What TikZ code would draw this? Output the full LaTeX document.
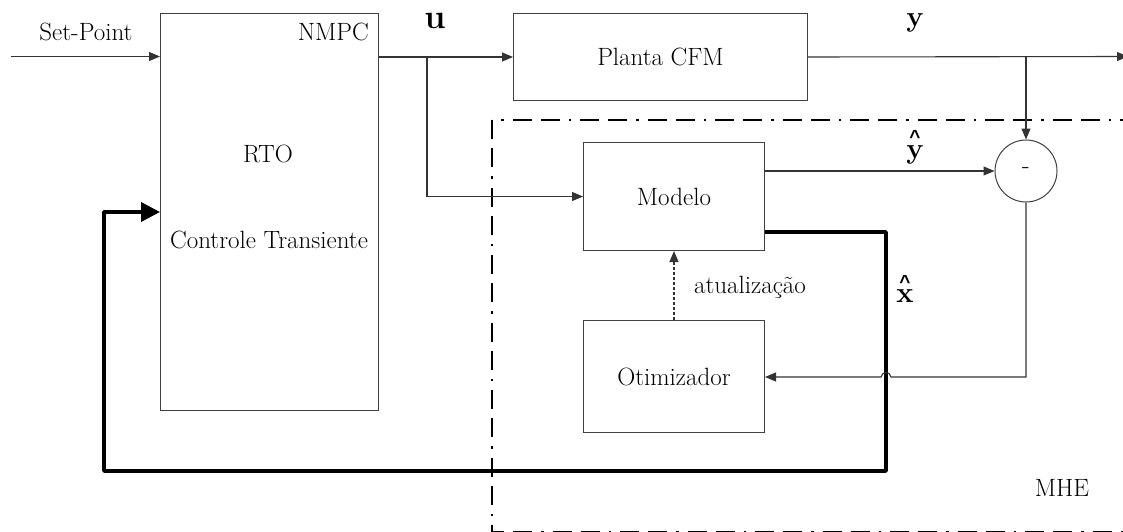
\documentclass[tikz,border=0pt]{standalone}
\usepackage{fontspec}
\setmainfont{Latin Modern Roman}
\newfontfamily\caretfamily{Liberation Sans}
\usetikzlibrary{arrows.meta}
\newcommand\lblfont{\fontsize{25}{29}\selectfont}
\newcommand\varfont{\fontsize{29}{33}\selectfont}
\newcommand\bigvarfont{\fontsize{34}{38}\selectfont}
\begin{document}
\begin{tikzpicture}[x=1pt,y=-1pt,
  blk/.style={draw=black!75, line width=1pt, rectangle, inner sep=0pt, anchor=north west},
  lbl/.style={inner sep=0pt, font=\lblfont},
  var/.style={inner sep=0pt, anchor=base, font=\varfont},
  caret/.style={inner sep=0pt, anchor=base, text height=14pt, text depth=0pt,
    font=\caretfamily\bfseries\fontsize{19}{21}\selectfont},
  sig/.style={draw=black!80, line width=1.1pt, -{Triangle[length=11pt,width=9pt]}},
  fb/.style={draw=black, line width=3.6pt, line join=round, -{Triangle[length=19pt,width=19pt]}},
  mhebox/.style={draw=black, line width=2.6pt,
    dash pattern=on 19pt off 9pt on 19pt off 9pt on 2.5pt off 9pt}]
\clip (0,0) rectangle (1123,532);

% enclosing MHE region
\draw[mhebox] (492,120) rectangle (1160,532);

% blocks
\node[blk, minimum width=218pt, minimum height=397pt] (nmpc) at (160,13) {};
\node[blk, minimum width=294pt, minimum height=87pt] (planta) at (513,13) {};
\node[blk, minimum width=181pt, minimum height=108pt] (modelo) at (583,142) {};
\node[blk, minimum width=181pt, minimum height=112pt] (otim) at (583,320) {};
\node[draw=black!75, line width=1pt, circle, minimum size=62pt, inner sep=0pt] (sum) at (1026,171) {};

% block texts
\node[lbl, anchor=east] (tnmpc) at (369,32) {NMPC};
\node[lbl] (trto) at (268,154) {RTO};
\node[lbl] (tct) at (269,240) {Controle Transiente};
\node[lbl] (tplanta) at (planta.center) {Planta CFM};
\node[lbl] (tmodelo) at (modelo.center) {Modelo};
\node[lbl] (totim) at (otim.center) {Otimizador};
\node[lbl] (tminus) at (sum.center) {-};
\node[lbl] (tmhe) at (1062,488) {MHE};

% signal labels (estimates carry a caret set above the letter)
\node[lbl] (tsp) at (86,32) {Set-Point};
\node[var, font=\bigvarfont] (tu) at (435,29) {$\mathbf{u}$};
\node[var] (ty) at (915,27) {$\mathbf{y}$};
\node[var] (tyh) at (915,158) {$\mathbf{y}$};
\node[caret] (tyhc) at (915,143) {\^{}};
\node[var] (txh) at (905,302) {$\mathbf{x}$};
\node[caret] (txhc) at (905,288) {\^{}};
\node[lbl] (tat) at (750,287) {atualização};

% junction and corner points
\coordinate (sp) at (11,56.5);
\coordinate (uj) at (427,56.5);
\coordinate (yj) at (1026,56.5);
\coordinate (out) at (1128,56.5);
\coordinate (ec) at (1026,377);
\coordinate (fa) at (886,232);
\coordinate (fb1) at (886,471);
\coordinate (fc) at (104,471);
\coordinate (fd) at (104,212);

% connectors
\draw[sig] (sp) -- (sp -| nmpc.west);
\draw[sig] (nmpc.east |- planta.west) -- (planta.west);
\draw[sig] (uj) |- (modelo.west);
\draw[sig] (planta.east) -- (out);
\draw[sig] (yj) -- (sum.north);
\draw[sig] (modelo.east |- sum.west) -- (sum.west);
\draw[sig, dash pattern=on 3pt off 2pt] (otim.north -| 674,0) -- (modelo.south -| 674,0);
\draw[fb] (modelo.east |- fa) -- (fa) -- (fb1) -- (fc) -- (fd) -- (nmpc.west |- fd);
\draw[sig] (sum.south) -- (ec) -- (891,377)
  .. controls (890,371) and (882,371) .. (881,377) -- (otim.east |- ec);
\end{tikzpicture}
\end{document}
